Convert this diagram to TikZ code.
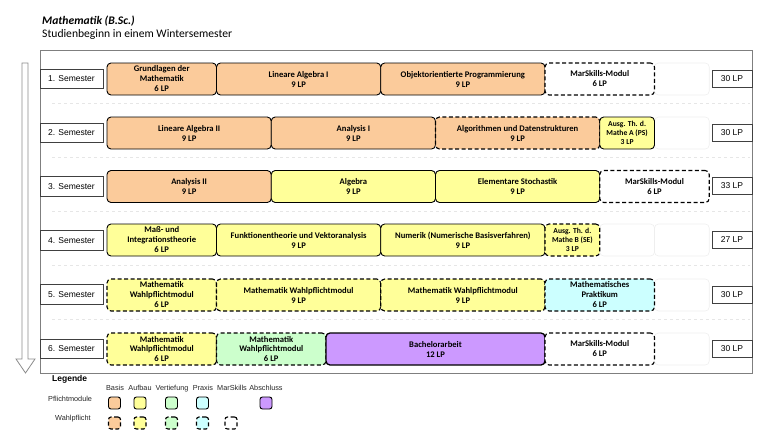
\documentclass[tikz,border=0pt]{standalone}
\usepackage{fontspec}
\setmainfont{Liberation Sans}
\newfontfamily\carl{Carlito}
\definecolor{basis}{HTML}{FBCB9B}
\definecolor{aufbau}{HTML}{FFFF99}
\definecolor{vert}{HTML}{CCFFCC}
\definecolor{praxis}{HTML}{CCFFFF}
\definecolor{absch}{HTML}{CC99FF}
\definecolor{framegray}{HTML}{7F7F7F}
\definecolor{sepgray}{HTML}{E6E6E6}
\definecolor{slotgray}{HTML}{EEEEEE}
\tikzset{
  modbase/.style={draw=black, rounded corners=4pt, line width=0.9pt, minimum height=32pt,
    inner sep=0pt, align=center, font=\carl\bfseries\fontsize{8.6}{10}\selectfont},
  pflicht/.style={solid},
  wahl/.style={dash pattern=on 4pt off 2.5pt, line width=1.1pt},
  slot/.style={draw=slotgray, rounded corners=4pt, line width=0.6pt, minimum height=32pt, inner sep=0pt},
  small/.style={font=\carl\bfseries\fontsize{7.6}{9}\selectfont},
  semlabel/.style={draw=black!75, fill=white, line width=0.7pt, minimum width=63pt, minimum height=19.5pt,
    inner sep=0pt, font=\fontsize{8.5}{10}\selectfont},
  lplabel/.style={draw=black!75, fill=white, line width=0.7pt, minimum width=40pt, minimum height=17pt,
    inner sep=0pt, font=\fontsize{8.5}{10}\selectfont},
  legsq/.style={draw=black, rounded corners=2.5pt, line width=0.9pt, minimum width=12pt, minimum height=12pt, inner sep=0pt},
  legtext/.style={inner sep=0pt, font=\fontsize{7.3}{9}\selectfont, text=black!85},
  sepline/.style={draw=sepgray, line width=0.8pt, dash pattern=on 3pt off 3pt}
}
\newcommand\modbox[6]{%
  \pgfmathsetmacro\mbw{((#3)-(#2))*54.75}%
  \pgfmathsetmacro\mbx{107+((#2)+(#3))/2*54.75}%
  \node[modbase,#5,minimum width=\mbw pt] (#1) at (\mbx,#4) {#6};}
\newcommand\slotbox[4]{%
  \pgfmathsetmacro\mbw{((#3)-(#2))*54.75}%
  \pgfmathsetmacro\mbx{107+((#2)+(#3))/2*54.75}%
  \node[slot,minimum width=\mbw pt] (#1) at (\mbx,#4) {};}
\begin{document}
\begin{tikzpicture}[x=1pt,y=-1pt]
\useasboundingbox (0,0) rectangle (768,445);
% title
\node[anchor=base west, inner sep=0pt, font=\carl\bfseries\itshape\fontsize{11.6}{13}\selectfont] (title) at (42,24) {Mathematik (B.Sc.)};
\node[anchor=base west, inner sep=0pt, font=\carl\fontsize{11.6}{13}\selectfont] (subtitle) at (42,37.5) {Studienbeginn in einem Wintersemester};
% frame
\node[draw=framegray, line width=1pt, minimum width=712pt, minimum height=323pt, inner sep=0pt] (frame) at (396,211.5) {};
% separators
\coordinate (sl1) at (52,103); \coordinate (sr1) at (750,103);
\coordinate (sl2) at (52,157); \coordinate (sr2) at (750,157);
\coordinate (sl3) at (52,211); \coordinate (sr3) at (750,211);
\coordinate (sl4) at (52,265); \coordinate (sr4) at (750,265);
\coordinate (sl5) at (52,319.5); \coordinate (sr5) at (750,319.5);
\foreach \i in {1,...,5} {\draw[sepline] (sl\i) -- (sr\i);}
% arrow
\draw[draw=black!45, fill=white, line width=0.8pt] (22,63) -- (28,63) -- (28,359) -- (35,359) -- (25.5,373) -- (16,359) -- (22,359) -- cycle;
% empty slots
\slotbox{e1}{10}{11}{79}
\slotbox{e2}{10}{11}{133}
\slotbox{e4a}{9}{10}{240}
\slotbox{e4b}{10}{11}{240}
\slotbox{e5}{10}{11}{295}
\slotbox{e6}{10}{11}{349}
% row 1
\node[semlabel] (s1) at (71.5,79) {1. Semester};
\modbox{m11}{0}{2}{79}{fill=basis,pflicht}{Grundlagen der\\Mathematik\\6 LP}
\modbox{m12}{2}{5}{79}{fill=basis,pflicht}{Lineare Algebra I\\9 LP}
\modbox{m13}{5}{8}{79}{fill=basis,pflicht}{Objektorientierte Programmierung\\9 LP}
\modbox{m14}{8}{10}{79}{fill=white,wahl}{MarSkills-Modul\\6 LP}
\node[lplabel] (lp1) at (732,78.5) {30 LP};
% row 2
\node[semlabel] (s2) at (71.5,133) {2. Semester};
\modbox{m21}{0}{3}{133}{fill=basis,pflicht}{Lineare Algebra II\\9 LP}
\modbox{m22}{3}{6}{133}{fill=basis,pflicht}{Analysis I\\9 LP}
\modbox{m23}{6}{9}{133}{fill=basis,wahl}{Algorithmen und Datenstrukturen\\9 LP}
\modbox{m24}{9}{10}{133}{fill=aufbau,pflicht,small}{Ausg. Th. d.\\Mathe A (PS)\\3 LP}
\node[lplabel] (lp2) at (732,132.5) {30 LP};
% row 3
\node[semlabel] (s3) at (71.5,186.5) {3. Semester};
\modbox{m31}{0}{3}{186.5}{fill=basis,pflicht}{Analysis II\\9 LP}
\modbox{m32}{3}{6}{186.5}{fill=aufbau,pflicht}{Algebra\\9 LP}
\modbox{m33}{6}{9}{186.5}{fill=aufbau,pflicht}{Elementare Stochastik\\9 LP}
\modbox{m34}{9}{11}{186.5}{fill=white,wahl}{MarSkills-Modul\\6 LP}
\node[lplabel] (lp3) at (732,186) {33 LP};
% row 4
\node[semlabel] (s4) at (71.5,240.5) {4. Semester};
\modbox{m41}{0}{2}{240}{fill=aufbau,pflicht}{Maß- und\\Integrationstheorie\\6 LP}
\modbox{m42}{2}{5}{240}{fill=aufbau,pflicht}{Funktionentheorie und Vektoranalysis\\9 LP}
\modbox{m43}{5}{8}{240}{fill=aufbau,pflicht}{Numerik (Numerische Basisverfahren)\\9 LP}
\modbox{m44}{8}{9}{240}{fill=aufbau,wahl,small}{Ausg. Th. d.\\Mathe B (SE)\\3 LP}
\node[lplabel] (lp4) at (732,239.5) {27 LP};
% row 5
\node[semlabel] (s5) at (71.5,294.5) {5. Semester};
\modbox{m51}{0}{2}{295}{fill=aufbau,wahl}{Mathematik\\Wahlpflichtmodul\\6 LP}
\modbox{m52}{2}{5}{295}{fill=aufbau,wahl}{Mathematik Wahlpflichtmodul\\9 LP}
\modbox{m53}{5}{8}{295}{fill=aufbau,wahl}{Mathematik Wahlpflichtmodul\\9 LP}
\modbox{m54}{8}{10}{295}{fill=praxis,wahl}{Mathematisches\\Praktikum\\6 LP}
\node[lplabel] (lp5) at (732,294.5) {30 LP};
% row 6
\node[semlabel] (s6) at (71.5,349) {6. Semester};
\modbox{m61}{0}{2}{349}{fill=aufbau,wahl}{Mathematik\\Wahlpflichtmodul\\6 LP}
\modbox{m62}{2}{4}{349}{fill=vert,wahl}{Mathematik\\Wahlpflichtmodul\\6 LP}
\modbox{m63}{4}{8}{349}{fill=absch,pflicht,line width=1.3pt}{Bachelorarbeit\\12 LP}
\modbox{m64}{8}{10}{349}{fill=white,wahl}{MarSkills-Modul\\6 LP}
\node[lplabel] (lp6) at (732,348.5) {30 LP};
% legend
\node[anchor=base west, inner sep=0pt, font=\bfseries\fontsize{8.5}{10}\selectfont] (leg) at (52,381.5) {Legende};
\node[legtext, anchor=base] (h1) at (115,390.5) {Basis};
\node[legtext, anchor=base] (h2) at (140,390.5) {Aufbau};
\node[legtext, anchor=base] (h3) at (172,390.5) {Vertiefung};
\node[legtext, anchor=base] (h4) at (203,390.5) {Praxis};
\node[legtext, anchor=base] (h5) at (232,390.5) {MarSkills};
\node[legtext, anchor=base] (h6) at (266,390.5) {Abschluss};
\node[legtext, anchor=base west] (lpf) at (48,401.5) {Pflichtmodule};
\node[legtext, anchor=base west] (lwp) at (55,420.5) {Wahlpflicht};
\node[legsq, fill=basis] (p1) at (114.5,403) {};
\node[legsq, fill=aufbau] (p2) at (140,403) {};
\node[legsq, fill=vert] (p3) at (171.5,403) {};
\node[legsq, fill=praxis] (p4) at (202.5,403) {};
\node[legsq, fill=absch] (p6) at (266,403) {};
\node[legsq, fill=basis, wahl] (w1) at (114.5,423) {};
\node[legsq, fill=aufbau, wahl] (w2) at (140,423) {};
\node[legsq, fill=vert, wahl] (w3) at (171.5,423) {};
\node[legsq, fill=praxis, wahl] (w4) at (202.5,423) {};
\node[legsq, fill=white, wahl] (w5) at (231,423) {};
\end{tikzpicture}
\end{document}
